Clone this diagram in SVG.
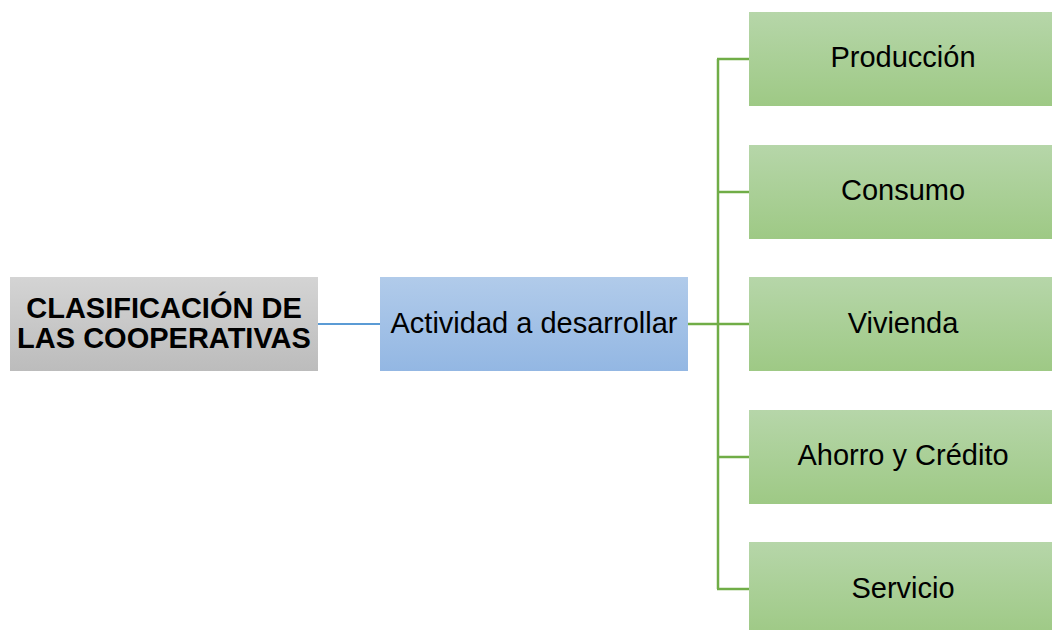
<svg xmlns="http://www.w3.org/2000/svg" width="1052" height="630" viewBox="0 0 1052 630">
<defs>
<linearGradient id="gGray" x1="0" y1="0" x2="0" y2="1"><stop offset="0" stop-color="#d4d4d4"/><stop offset="1" stop-color="#bcbcbc"/></linearGradient>
<linearGradient id="gBlue" x1="0" y1="0" x2="0" y2="1"><stop offset="0" stop-color="#b1cbea"/><stop offset="1" stop-color="#93b7e3"/></linearGradient>
<linearGradient id="gGreen" x1="0" y1="0" x2="0" y2="1"><stop offset="0" stop-color="#b6d6a9"/><stop offset="1" stop-color="#9ec985"/></linearGradient>
</defs>
<style>
text{font-family:"Liberation Sans",Arial,sans-serif;font-size:29px;fill:#000;text-anchor:middle}
.b{font-weight:bold}
.leaf{fill:url(#gGreen)}
.g{stroke:#70ad47;stroke-width:2.5;fill:none}
</style>
<rect width="1052" height="630" fill="#fff"/>
<g id="connectors">
<line x1="318" y1="324" x2="380" y2="324" stroke="#5b9bd5" stroke-width="2"/>
<line class="g" x1="688" y1="324" x2="718" y2="324"/>
<line class="g" x1="718" y1="59" x2="718" y2="589"/>
<line class="g" x1="717" y1="59" x2="749" y2="59"/>
<line class="g" x1="718" y1="192" x2="749" y2="192"/>
<line class="g" x1="718" y1="324" x2="749" y2="324"/>
<line class="g" x1="718" y1="457" x2="749" y2="457"/>
<line class="g" x1="717" y1="589" x2="749" y2="589"/>
</g>
<g id="root"><rect x="10" y="277" width="308" height="94" fill="url(#gGray)"/>
<text class="b" x="164" y="318">CLASIFICACIÓN DE</text><text class="b" x="164" y="348">LAS COOPERATIVAS</text></g>
<g id="actividad"><rect x="380" y="277" width="308" height="94" fill="url(#gBlue)"/>
<text x="534" y="333">Actividad a desarrollar</text></g>
<g id="produccion"><rect class="leaf" x="749" y="12" width="305" height="94"/><text x="903" y="67">Producción</text></g>
<g id="consumo"><rect class="leaf" x="749" y="145" width="305" height="94"/><text x="903" y="200">Consumo</text></g>
<g id="vivienda"><rect class="leaf" x="749" y="277" width="305" height="94"/><text x="903" y="333">Vivienda</text></g>
<g id="ahorro"><rect class="leaf" x="749" y="410" width="305" height="94"/><text x="903" y="465">Ahorro y Crédito</text></g>
<g id="servicio"><rect class="leaf" x="749" y="542" width="305" height="94"/><text x="903" y="598">Servicio</text></g>
</svg>
